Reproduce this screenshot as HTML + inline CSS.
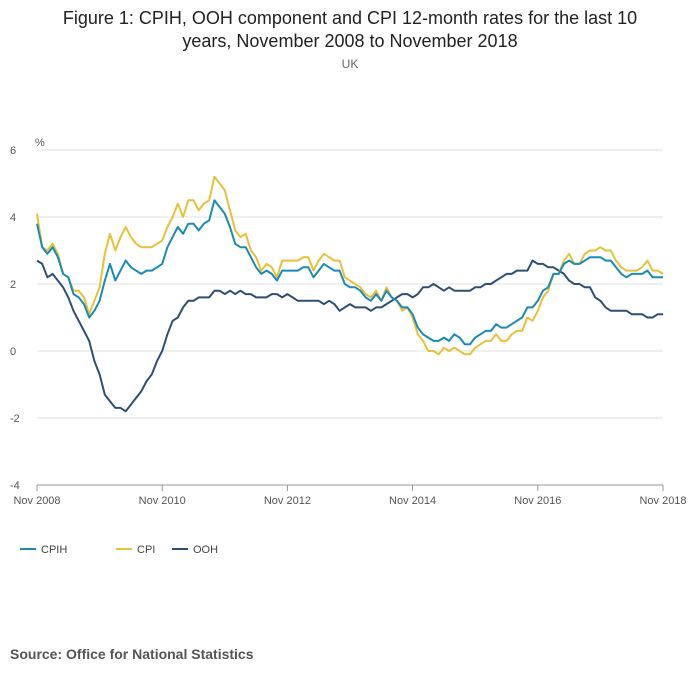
<!DOCTYPE html>
<html><head><meta charset="utf-8"><style>
body{margin:0;background:#fff;font-family:"Liberation Sans",sans-serif;}
#wrap{position:relative;width:700px;height:682px;overflow:hidden;}
.t{position:absolute;left:0;width:700px;text-align:center;color:#222;}
</style></head><body>
<div id="wrap">
<div class="t" style="top:7px;font-size:18px;line-height:23px;">Figure 1: CPIH, OOH component and CPI 12-month rates for the last 10<br>years, November 2008 to November 2018</div>
<div class="t" style="top:57px;font-size:12px;color:#666;">UK</div>
<svg id="chart" width="700" height="682" style="position:absolute;left:0;top:0"></svg>
<div style="position:absolute;left:10px;top:646px;font-size:14px;font-weight:bold;color:#555;">Source: Office for National Statistics</div>
</div>
<script>
const yTicks=[6,4,2,0,-2,-4];
const xTickLabels=["Nov 2008","Nov 2010","Nov 2012","Nov 2014","Nov 2016","Nov 2018"];
const seriesNames=["CPIH","CPI","OOH"];
const cpih=[3.8,3.1,
2.9,3.1,2.8,2.3,2.2,1.7,1.6,1.4,1.0,1.2,1.5,2.1,
2.6,2.1,2.4,2.7,2.5,2.4,2.3,2.4,2.4,2.5,2.6,3.1,
3.4,3.7,3.5,3.8,3.8,3.6,3.8,3.9,4.5,4.3,4.1,3.7,
3.2,3.1,3.1,2.8,2.5,2.3,2.4,2.3,2.1,2.4,2.4,2.4,
2.4,2.5,2.5,2.2,2.4,2.6,2.5,2.4,2.4,2.0,1.9,1.9,
1.8,1.6,1.5,1.7,1.5,1.8,1.6,1.5,1.3,1.3,1.1,0.7,
0.5,0.4,0.3,0.3,0.4,0.3,0.5,0.4,0.2,0.2,0.4,0.5,
0.6,0.6,0.8,0.7,0.7,0.8,0.9,1.0,1.3,1.3,1.5,1.8,
1.9,2.3,2.3,2.6,2.7,2.6,2.6,2.7,2.8,2.8,2.8,2.7,
2.7,2.5,2.3,2.2,2.3,2.3,2.3,2.4,2.2,2.2,2.2];
const cpi=[4.1,3.1,
3.0,3.2,2.9,2.3,2.2,1.8,1.8,1.6,1.1,1.5,1.9,2.9,
3.5,3.0,3.4,3.7,3.4,3.2,3.1,3.1,3.1,3.2,3.3,3.7,
4.0,4.4,4.0,4.5,4.5,4.2,4.4,4.5,5.2,5.0,4.8,4.2,
3.6,3.4,3.5,3.0,2.8,2.4,2.6,2.5,2.2,2.7,2.7,2.7,
2.7,2.8,2.8,2.4,2.7,2.9,2.8,2.7,2.7,2.2,2.1,2.0,
1.9,1.7,1.6,1.8,1.5,1.9,1.6,1.5,1.2,1.3,1.0,0.5,
0.3,0.0,0.0,-0.1,0.1,0.0,0.1,0.0,-0.1,-0.1,0.1,0.2,
0.3,0.3,0.5,0.3,0.3,0.5,0.6,0.6,1.0,0.9,1.2,1.6,
1.8,2.3,2.3,2.7,2.9,2.6,2.6,2.9,3.0,3.0,3.1,3.0,
3.0,2.7,2.5,2.4,2.4,2.4,2.5,2.7,2.4,2.4,2.3];
const ooh=[2.7,2.6,
2.2,2.3,2.1,1.9,1.6,1.2,0.9,0.6,0.3,-0.3,-0.7,-1.3,
-1.5,-1.7,-1.7,-1.8,-1.6,-1.4,-1.2,-0.9,-0.7,-0.3,0.0,0.5,
0.9,1.0,1.3,1.5,1.5,1.6,1.6,1.6,1.8,1.8,1.7,1.8,
1.7,1.8,1.7,1.7,1.6,1.6,1.6,1.7,1.7,1.6,1.7,1.6,
1.5,1.5,1.5,1.5,1.5,1.4,1.5,1.4,1.2,1.3,1.4,1.3,
1.3,1.3,1.2,1.3,1.3,1.4,1.5,1.6,1.7,1.7,1.6,1.7,
1.9,1.9,2.0,1.9,1.8,1.9,1.8,1.8,1.8,1.8,1.9,1.9,
2.0,2.0,2.1,2.2,2.3,2.3,2.4,2.4,2.4,2.7,2.6,2.6,
2.5,2.5,2.4,2.3,2.1,2.0,2.0,1.9,1.9,1.6,1.5,1.3,
1.2,1.2,1.2,1.2,1.1,1.1,1.1,1.0,1.0,1.1,1.1];
const colors=["#1b8bb5","#e8c13a","#2f4f72"];
const NS="http://www.w3.org/2000/svg";
const svg=document.getElementById('chart');
const X0=37,X1=663,Y6=150,Ym4=485;
function xs(i){return X0+(X1-X0)*i/120;}
function ys(v){return Y6+(6-v)*(Ym4-Y6)/10;}
function mk(t,a){const e=document.createElementNS(NS,t);for(const k in a)e.setAttribute(k,a[k]);svg.appendChild(e);return e;}
yTicks.forEach(v=>{
  const l=mk('line',{x1:X0,x2:X1,y1:ys(v),y2:ys(v),stroke:v===-4?'#999':'#e2e2e2','stroke-width':1});
  
  
  const t=mk('text',{x:10,y:ys(v)+4,'font-size':11,fill:'#555','font-family':'Liberation Sans, sans-serif'});
  t.textContent=v;
  
  
});
const pct=mk('text',{x:35,y:146,'font-size':11,fill:'#555','font-family':'Liberation Sans, sans-serif'});
pct.textContent='%';


xTickLabels.forEach((s,k)=>{
  const x=xs(k*24);
  const tk=mk('line',{x1:x,x2:x,y1:485,y2:491,stroke:'#999'});
  
  
  const t=mk('text',{x:x,y:504,'font-size':11,fill:'#555','text-anchor':'middle','font-family':'Liberation Sans, sans-serif'});
  t.textContent=s;
  
  
});
[cpih,cpi,ooh].forEach((d,si)=>{});
const order=[2,1,0];
const all=[cpih,cpi,ooh];
order.forEach(si=>{
  const d=all[si];
  const p=mk('path',{d:d.map((v,i)=>(i?'L':'M')+xs(i).toFixed(1)+','+ys(v).toFixed(1)).join(''),fill:'none',stroke:colors[si],'stroke-width':2,'stroke-linejoin':'round'});
  
  
});
const lx=[20,116,172];
seriesNames.forEach((n,si)=>{
  const l=mk('line',{x1:lx[si],x2:lx[si]+16,y1:549,y2:549,stroke:colors[si],'stroke-width':2});
  
  
  const t=mk('text',{x:lx[si]+21,y:553,'font-size':11,fill:'#444','font-family':'Liberation Sans, sans-serif'});
  t.textContent=n;
  
  
});
</script>
</body></html>
